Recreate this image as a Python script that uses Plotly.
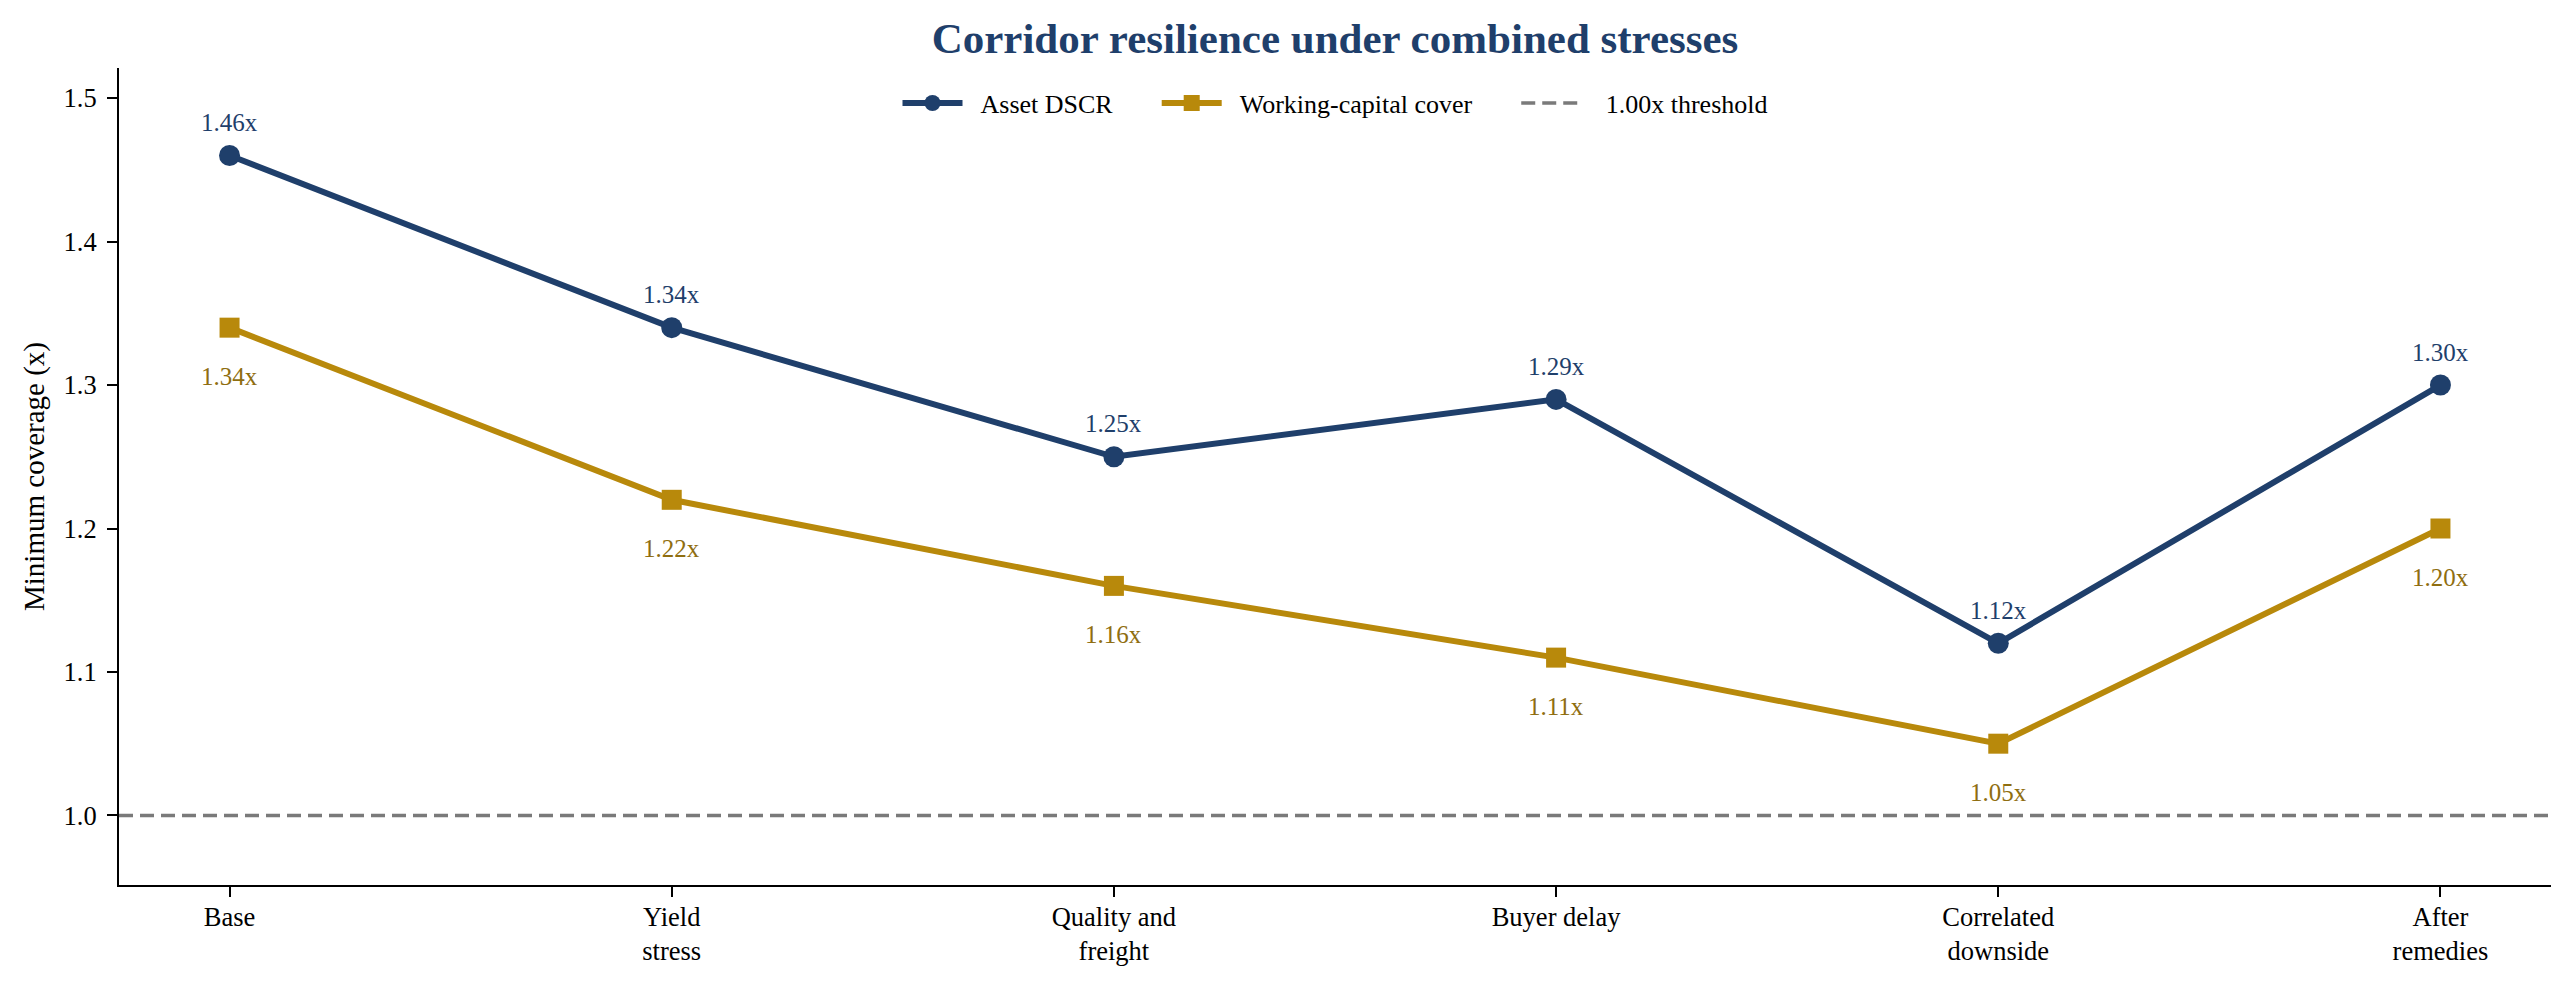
import plotly.graph_objects as go

categories = ["Base", "Yield stress", "Quality and freight", "Buyer delay",
              "Correlated downside", "After remedies"]
tick_labels = ["Base", "Yield<br>stress", "Quality and<br>freight", "Buyer delay",
               "Correlated<br>downside", "After<br>remedies"]
asset_dscr = [1.46, 1.34, 1.25, 1.29, 1.12, 1.30]
wc_cover = [1.34, 1.22, 1.16, 1.11, 1.05, 1.20]
threshold = 1.00
y_ticks = [1.0, 1.1, 1.2, 1.3, 1.4, 1.5]

NAVY = "#1f3f6b"
GOLD = "#b8890b"
GOLD_TXT = "#8f6e10"
GREY = "#7a7a7a"
FONT = "Liberation Serif"
NB = "\u00a0"

W, H = 2564, 982  # page body adds an 8px offset inside the 2572x990 window

fig = go.Figure()
fig.add_trace(go.Scatter(
    x=categories, y=asset_dscr, name=NB * 2 + "Asset DSCR" + NB * 6,
    mode="lines+markers",
    line=dict(color=NAVY, width=6),
    marker=dict(symbol="circle", size=21, color=NAVY),
))
fig.add_trace(go.Scatter(
    x=categories, y=wc_cover, name=NB * 2 + "Working-capital cover" + NB * 6,
    mode="lines+markers",
    line=dict(color=GOLD, width=6),
    marker=dict(symbol="square", size=20, color=GOLD),
))
fig.add_hline(y=threshold, line=dict(color=GREY, width=3.5, dash="14px,7px"),
              layer="below", showlegend=True, name=NB * 3 + "1.00x threshold")

for c, v in zip(categories, asset_dscr):
    fig.add_annotation(x=c, y=v, text=f"{v:.2f}x", showarrow=False,
                       yshift=33, font=dict(family=FONT, size=25, color=NAVY))
for c, v in zip(categories, wc_cover):
    fig.add_annotation(x=c, y=v, text=f"{v:.2f}x", showarrow=False,
                       yshift=-49, font=dict(family=FONT, size=25, color=GOLD_TXT))

fig.update_layout(
    width=W, height=H,
    paper_bgcolor="white", plot_bgcolor="white",
    margin=dict(l=111, r=21, t=60, b=105),
    font=dict(family=FONT, size=26, color="black"),
    title=dict(text="<b>Corridor resilience under combined stresses</b>",
               x=0.5, xref="paper", xanchor="center",
               y=1 - 29.7 / H, yref="container", yanchor="middle",
               font=dict(family=FONT, size=43, color=NAVY)),
    legend=dict(orientation="h", x=0.5, xanchor="center", y=0.957, yanchor="middle",
                font=dict(family=FONT, size=26, color="black"),
                bgcolor="rgba(0,0,0,0)", itemwidth=60),
    showlegend=True,
)
fig.update_xaxes(
    type="category", range=[-0.25, 5.25],
    tickvals=categories, ticktext=tick_labels,
    showline=True, linecolor="black", linewidth=2, mirror=False,
    ticks="outside", ticklen=10, tickwidth=2, tickcolor="black",
    ticklabelstandoff=-3, showgrid=False, zeroline=False,
    tickfont=dict(family=FONT, size=26.5, color="black"),
)
fig.update_yaxes(
    range=[0.9515, 1.521], tickvals=y_ticks, tickformat=".1f",
    showline=True, linecolor="black", linewidth=2, mirror=False,
    ticks="outside", ticklen=10, tickwidth=2, tickcolor="black",
    ticklabelstandoff=5, showgrid=False, zeroline=False,
    tickfont=dict(family=FONT, size=26.5, color="black"),
    title=dict(text="Minimum coverage (x)", standoff=10,
               font=dict(family=FONT, size=29, color="black")),
)

fig.write_html("out.html")
